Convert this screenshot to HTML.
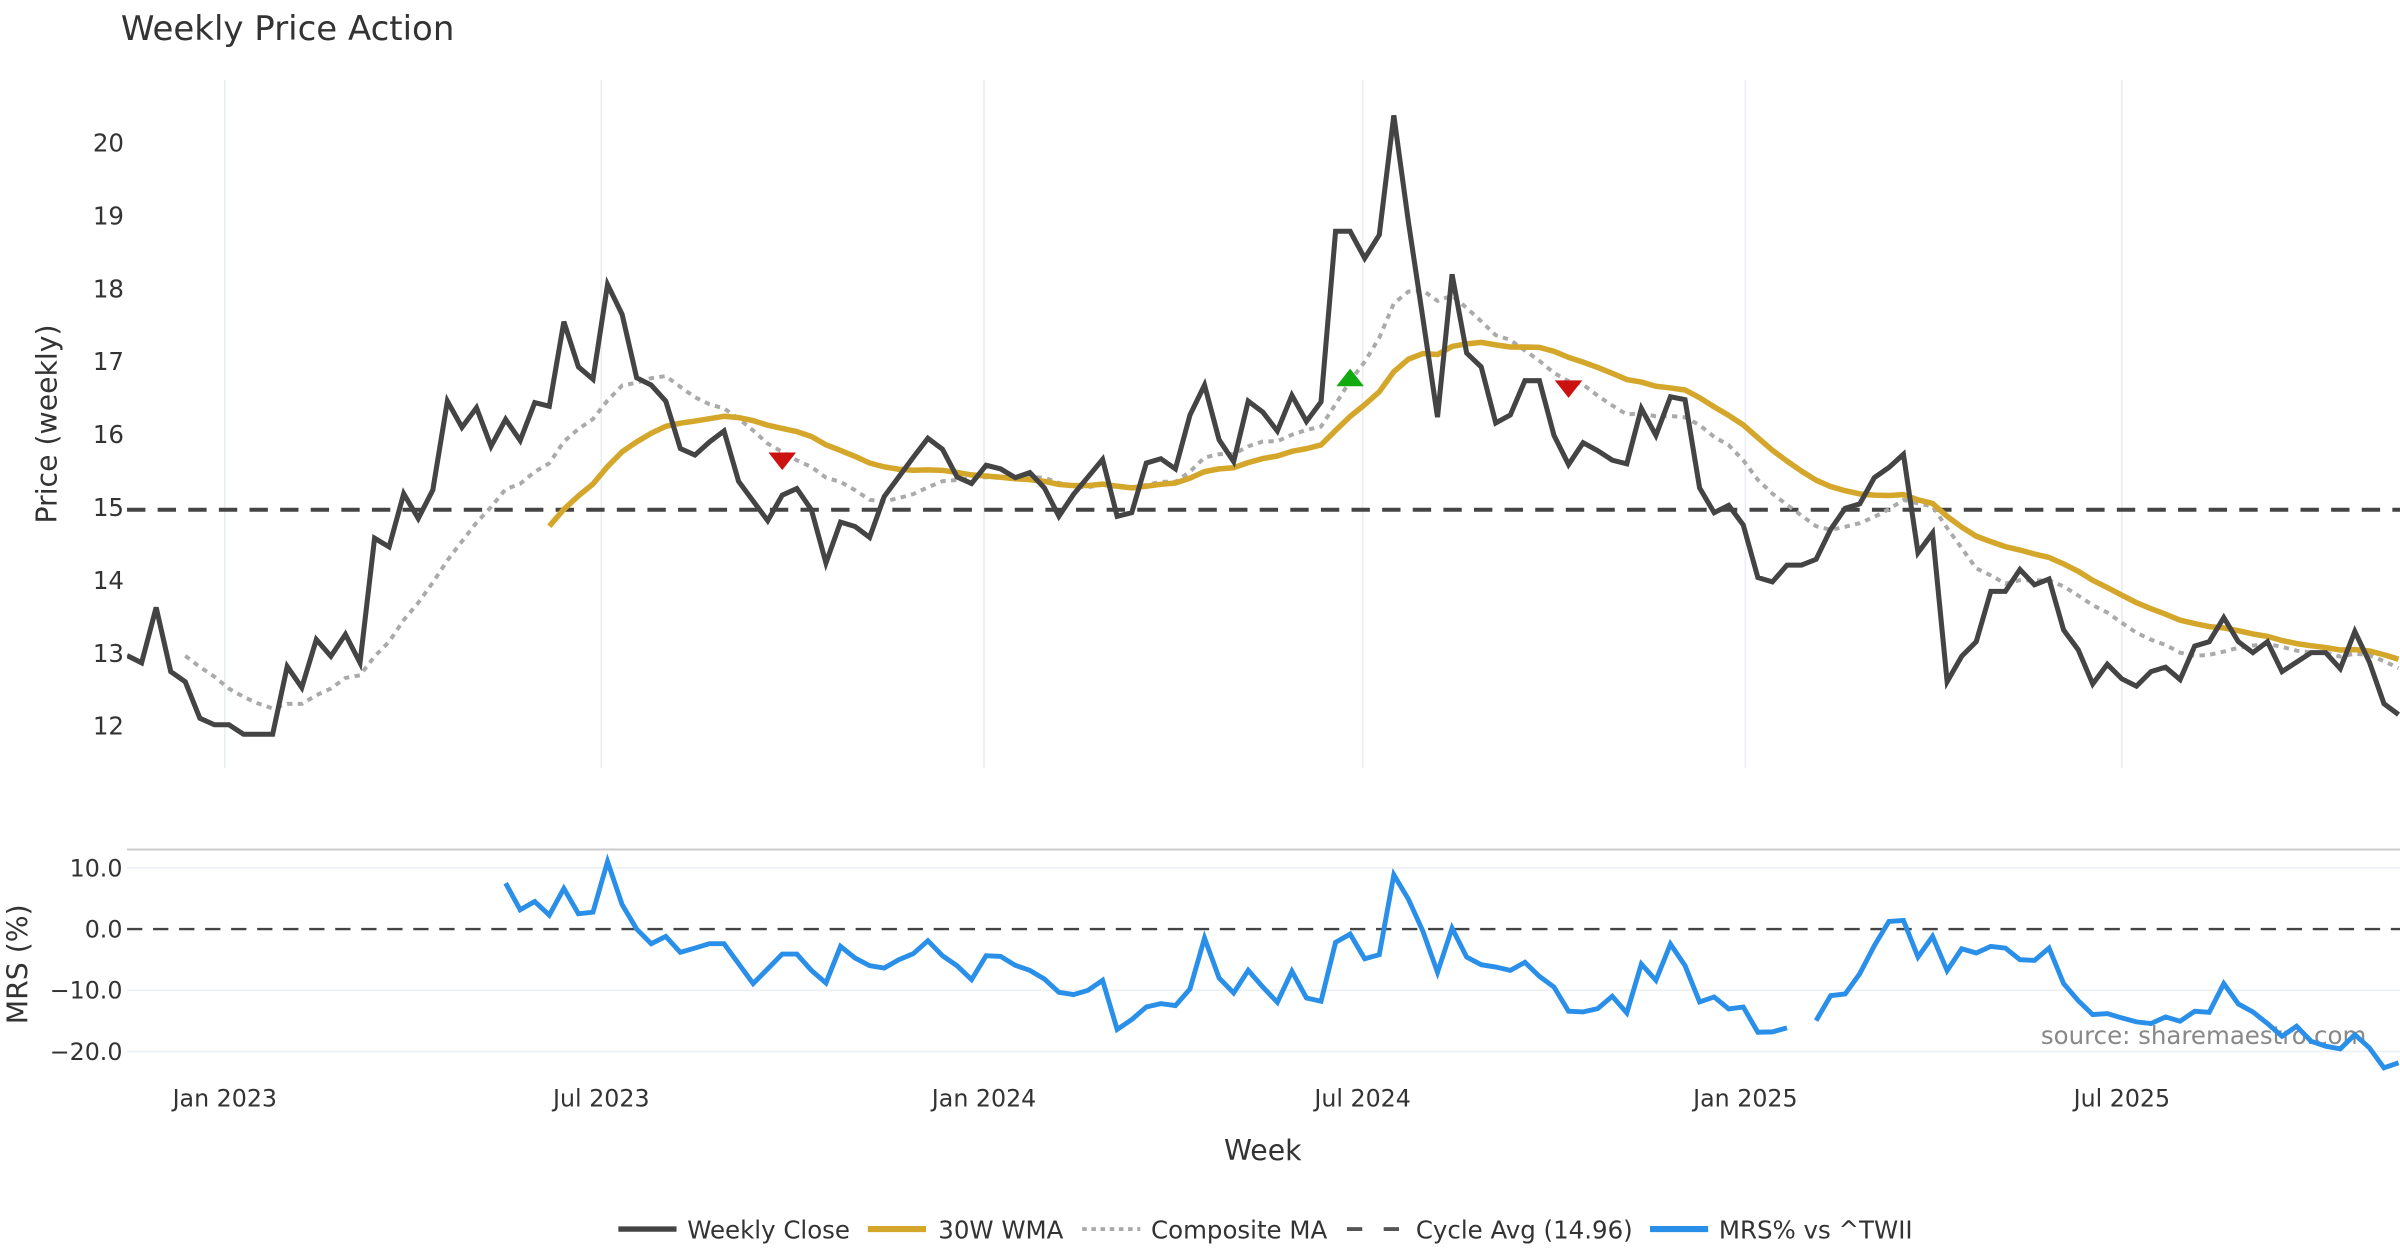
<!DOCTYPE html>
<html><head><meta charset="utf-8"><title>Weekly Price Action</title>
<style>
html,body{margin:0;padding:0;background:#fff;}
svg{display:block;font-family:"DejaVu Sans","Liberation Sans",sans-serif;}
</style></head>
<body>
<svg id="chart" width="2400" height="1260" viewBox="0 0 1568 823.2" preserveAspectRatio="none" xmlns="http://www.w3.org/2000/svg">
<text x="79" y="26" font-size="22.2" fill="#333">Weekly Price Action</text>
<text transform="translate(37,277) rotate(-90)" text-anchor="middle" font-size="18.5" fill="#333">Price (weekly)</text>
<text transform="translate(18,630) rotate(-90)" text-anchor="middle" font-size="18.5" fill="#333">MRS (%)</text>
<text x="825" y="758" text-anchor="middle" font-size="18.5" fill="#333">Week</text>
<text x="1546" y="682" text-anchor="end" font-size="16" fill="#888">source: sharemaestro.com</text>
<g id="grid"></g>
<g id="axes"></g>
<g id="series"></g>
<g id="legend">
  <line x1="404" y1="803" x2="442" y2="803" stroke="#444" stroke-width="3.5"/>
  <text x="449" y="809" font-size="16" fill="#333">Weekly Close</text>
  <line x1="567" y1="803" x2="605" y2="803" stroke="#D4A62A" stroke-width="4"/>
  <text x="613" y="809" font-size="16" fill="#333">30W WMA</text>
  <line x1="707" y1="803" x2="745" y2="803" stroke="#aaa" stroke-width="2.5" stroke-dasharray="3,3"/>
  <text x="752" y="809" font-size="16" fill="#333">Composite MA</text>
  <line x1="880" y1="803" x2="914" y2="803" stroke="#555" stroke-width="2.5" stroke-dasharray="10,14"/>
  <text x="925" y="809" font-size="16" fill="#333">Cycle Avg (14.96)</text>
  <line x1="1078" y1="803" x2="1116" y2="803" stroke="#2A8FE8" stroke-width="4"/>
  <text x="1123" y="809" font-size="16" fill="#333">MRS% vs ^TWII</text>
</g>
</svg>
<script>
const closes = [12.96,12.86,13.62,12.74,12.60,12.10,12.01,12.01,11.88,11.88,
11.88,12.81,12.52,13.18,12.95,13.25,12.86,14.57,14.45,15.18,
14.84,15.23,16.45,16.09,16.36,15.83,16.20,15.91,16.43,16.38,
17.54,16.92,16.75,18.05,17.64,16.77,16.67,16.45,15.80,15.71,
15.89,16.04,15.35,15.08,14.81,15.16,15.25,14.96,14.23,14.79,
14.73,14.58,15.14,15.41,15.68,15.94,15.79,15.41,15.32,15.57,
15.52,15.40,15.47,15.26,14.87,15.17,15.41,15.65,14.87,14.92,
15.60,15.66,15.52,16.26,16.67,15.92,15.62,16.45,16.30,16.04,
16.53,16.17,16.44,18.78,18.78,18.41,18.73,20.37,18.91,17.58,
16.23,18.19,17.11,16.92,16.15,16.26,16.73,16.73,15.98,15.58,
15.88,15.77,15.64,15.59,16.35,15.98,16.51,16.47,15.26,14.92,
15.02,14.75,14.03,13.97,14.20,14.20,14.28,14.69,14.98,15.04,
15.40,15.54,15.72,14.37,14.64,12.60,12.95,13.15,13.84,13.84,
14.14,13.93,14.01,13.31,13.04,12.57,12.84,12.64,12.54,12.74,
12.80,12.63,13.09,13.15,13.48,13.15,13.00,13.15,12.74,12.87,
13.00,13.00,12.78,13.29,12.87,12.30,12.15];
const mrs = [null,null,null,null,null,null,null,null,null,null,
null,null,null,null,null,null,null,null,null,null,
null,null,null,null,null,null,7.5,3.15,4.5,2.28,
6.63,2.5,2.77,11.03,4.0,0,-2.39,-1.2,-3.8,-3.1,
-2.39,-2.39,-5.65,-8.9,-6.5,-4.08,-4.08,-6.74,-8.8,-2.83,
-4.73,-5.98,-6.36,-5.0,-4.02,-1.9,-4.35,-5.98,-8.26,-4.35,
-4.46,-5.92,-6.74,-8.15,-10.33,-10.7,-10.0,-8.37,-16.4,-14.78,
-12.72,-12.17,-12.5,-9.78,-1.47,-7.99,-10.43,-6.74,-9.46,-11.96,
-6.9,-11.25,-11.79,-2.17,-0.82,-4.84,-4.18,8.86,4.89,-0.38,
-7.07,0.16,-4.57,-5.82,-6.2,-6.74,-5.43,-7.72,-9.46,-13.42,
-13.53,-12.99,-10.98,-13.7,-5.71,-8.37,-2.45,-5.98,-11.9,-11.09,
-13.04,-12.72,-16.85,-16.79,-16.14,null,-14.95,-10.87,-10.6,-7.28,
-2.72,1.25,1.41,-4.57,-1.2,-6.79,-3.21,-3.91,-2.83,-3.1,
-5.0,-5.11,-3.1,-8.91,-11.68,-13.97,-13.8,-14.51,-15.16,-15.43,
-14.35,-15.05,-13.42,-13.59,-8.91,-12.23,-13.53,-15.43,-17.5,-15.87,
-18.32,-19.13,-19.57,-17.23,-19.4,-22.66,-21.85];
const cycleAvg = 14.96;
const priceTicks = [12,13,14,15,16,17,18,19,20];
const mrsTicks = [10,0,-10,-20];
const mrsTickLabels = ["10.0","0.0","\u221210.0","\u221220.0"];
const dateTicks = ["2023-01-01","2023-07-01","2024-01-01","2024-07-01","2025-01-01","2025-07-01"];
const dateTickLabels = ["Jan 2023","Jul 2023","Jan 2024","Jul 2024","Jan 2025","Jul 2025"];
const startDate = "2022-11-15";
const sellIdx = [45,99];
const sellVal = [15.63,16.62];
const buyIdx = [84];
const buyVal = [16.77];

const NS = "http://www.w3.org/2000/svg";
const X0 = 83, XSTEP = 9.513, PL = 83, PR = 1568, PT = 52, PB = 502;
const xOf = i => X0 + i * XSTEP;
const yP = v => 474 - (v - 12) * 47.625;
const yM = v => 607 - v * 4.0;
const xDate = d => xOf((new Date(d) - new Date(startDate)) / 86400000 / 7);
function mk(tag, attrs, parent){ const e=document.createElementNS(NS,tag); for(const k in attrs) e.setAttribute(k,attrs[k]); parent.appendChild(e); return e; }
const grid = document.getElementById('grid'), axes = document.getElementById('axes'), series = document.getElementById('series');

const defs = mk('defs',{},document.getElementById('chart'));
const cp = mk('clipPath',{id:'clipP'},defs); mk('rect',{x:PL,y:PT,width:PR-PL,height:PB-PT},cp);
const cm = mk('clipPath',{id:'clipM'},defs); mk('rect',{x:PL,y:556,width:PR-PL,height:150},cm);

dateTicks.forEach((d,k)=>{
  const x = xDate(d);
  const g = mk('line',{x1:x,y1:PT,x2:x,y2:PB,stroke:'#e8edf2','stroke-width':1},grid);
  
  
  const t = mk('text',{x:x,y:723,'text-anchor':'middle','font-size':15.5,fill:'#333'},axes);
  t.textContent = dateTickLabels[k];
  
  
});
priceTicks.forEach(v=>{
  const t = mk('text',{x:81,y:yP(v)+6,'text-anchor':'end','font-size':16,fill:'#333'},axes);
  t.textContent = v;
  
  
});
const border = mk('line',{x1:PL,y1:555,x2:PR,y2:555,stroke:'#ccc','stroke-width':1.3},grid);


mrsTicks.forEach((v,k)=>{
  if(v!==0){
    const g = mk('line',{x1:PL,y1:yM(v),x2:PR,y2:yM(v),stroke:'#eceff3','stroke-width':1},grid);
    
    
  }
  const t = mk('text',{x:80,y:yM(v)+5.5,'text-anchor':'end','font-size':15.5,fill:'#333'},axes);
  t.textContent = mrsTickLabels[k];
  
  
});
const zl = mk('line',{x1:PL,y1:yM(0),x2:PR,y2:yM(0),stroke:'#444','stroke-width':1.6,'stroke-dasharray':'10,7'},grid);


const ca = mk('line',{x1:PL,y1:yP(cycleAvg),x2:PR,y2:yP(cycleAvg),stroke:'#444','stroke-width':2.6,'stroke-dasharray':'12,8'},grid);



const wma = closes.map((_,i)=>{ if(i<29) return null; let s=0,w=0; for(let k=0;k<30;k++){ s+=closes[i-29+k]*(k+1); w+=k+1; } return s/w; });
const sma = (i,n)=>{ const a=Math.max(0,i-n+1); let s=0; for(let k=a;k<=i;k++) s+=closes[k]; return s/(i-a+1); };
const comp = closes.map((_,i)=> i<4 ? null : (sma(i,5)+sma(i,10)+sma(i,20))/3);

function pathOf(arr, yf){
  let d='', pen=false;
  arr.forEach((v,i)=>{ if(v===null){pen=false;return;} d += (pen?'L':'M') + xOf(i).toFixed(2)+','+yf(v).toFixed(2); pen=true; });
  return d;
}
const pc = mk('path',{d:pathOf(comp,yP),fill:'none',stroke:'#aaa','stroke-width':2.6,'stroke-dasharray':'3.5,3.5','clip-path':'url(#clipP)'},series);


const pw = mk('path',{d:pathOf(wma,yP),fill:'none',stroke:'#D4A62A','stroke-width':3.6,'stroke-linejoin':'round','clip-path':'url(#clipP)'},series);


const pcl = mk('path',{d:pathOf(closes,yP),fill:'none',stroke:'#444','stroke-width':3.3,'stroke-linejoin':'miter','clip-path':'url(#clipP)'},series);


const pm = mk('path',{d:pathOf(mrs,yM),fill:'none',stroke:'#2A8FE8','stroke-width':3.2,'stroke-linejoin':'miter','clip-path':'url(#clipM)'},series);



sellIdx.forEach((ix,k)=>{
  const x=xOf(ix), y=yP(sellVal[k]);
  const t = mk('polygon',{points:`${x-9},${y-5.5} ${x+9},${y-5.5} ${x},${y+6}`,fill:'#CC1111'},series);
  
  
});
buyIdx.forEach((ix,k)=>{
  const x=xOf(ix), y=yP(buyVal[k]);
  const t = mk('polygon',{points:`${x-9},${y+5.5} ${x+9},${y+5.5} ${x},${y-6}`,fill:'#11AA11'},series);
  
  
});
</script>
</body></html>
